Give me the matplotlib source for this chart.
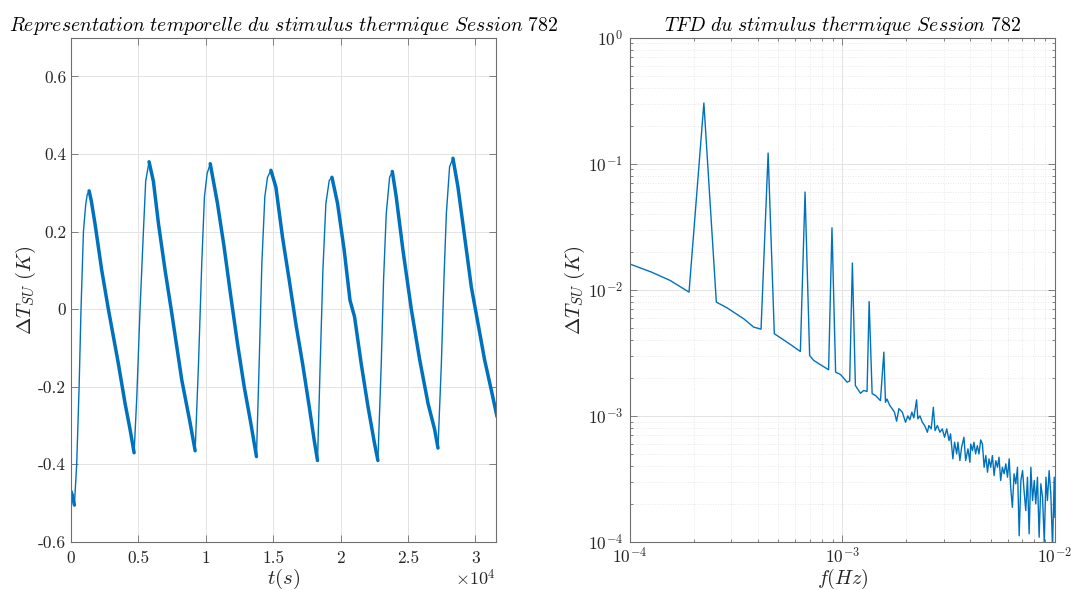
import matplotlib
matplotlib.use("Agg")
import matplotlib.pyplot as plt
import matplotlib.ticker as mticker
import numpy as np

plt.rcParams["font.family"] = "serif"
plt.rcParams["font.serif"] = ["cmr10", "DejaVu Serif"]
plt.rcParams["mathtext.fontset"] = "cm"
plt.rcParams["axes.unicode_minus"] = False
plt.rcParams["axes.formatter.use_mathtext"] = True

# time signal (t in s, dT in K)
t_s = [0, 100, 250, 420, 600, 740, 920, 1090, 1200, 1340, 1500, 1780, 2280, 2770,
       3510, 4010, 4380, 4680,
       4880, 5120, 5370, 5540, 5790,
       6110, 6490, 6980, 7430, 8220, 8840, 9210,
       9460, 9700, 9900, 10100, 10330,
       10870, 11360, 11860, 12350, 12850, 13340, 13760,
       13960, 14160, 14380, 14580, 14830,
       15200, 15690, 16190, 16680, 17180, 17670, 18040, 18290,
       18490, 18690, 18910, 19160, 19360,
       19780, 20270, 20700, 21040, 21530, 22030, 22520, 22770,
       23020, 23190, 23390, 23640, 23840,
       24130, 24630, 25250, 25870, 26490, 26980, 27230,
       27480, 27670, 27850, 28090, 28340,
       28710, 29210, 29700, 30200, 30690, 31190, 31610]
dT = [-0.47, -0.48, -0.505, -0.40, -0.2, 0.0, 0.2, 0.27, 0.295, 0.305, 0.28, 0.22, 0.10, 0.0,
      -0.14, -0.243, -0.31, -0.37,
      -0.226, 0.0, 0.2, 0.33, 0.38,
      0.33, 0.22, 0.10, 0.0, -0.183, -0.294, -0.365,
      -0.14, 0.118, 0.29, 0.35, 0.375,
      0.272, 0.16, 0.032, -0.088, -0.2, -0.294, -0.38,
      -0.14, 0.118, 0.29, 0.34, 0.358,
      0.315, 0.186, 0.075, -0.037, -0.14, -0.25, -0.337, -0.39,
      -0.14, 0.10, 0.272, 0.332, 0.34,
      0.272, 0.152, 0.023, -0.02, -0.14, -0.25, -0.346, -0.39,
      -0.14, 0.075, 0.246, 0.34, 0.355,
      0.29, 0.152, 0.0, -0.13, -0.243, -0.31, -0.358,
      -0.14, 0.075, 0.246, 0.367, 0.389,
      0.315, 0.186, 0.058, -0.037, -0.131, -0.209, -0.277]

# spectrum
freq_hz = [9.52e-5, 1.264e-4, 1.545e-4, 1.897e-4, 2.228e-4, 2.55e-4, 2.86e-4, 3.43e-4,
           3.82e-4, 4.14e-4, 4.47e-4, 4.78e-4, 5.2e-4, 5.79e-4, 6.34e-4, 6.67e-4, 7.01e-4,
           7.33e-4, 7.87e-4, 8.61e-4, 8.93e-4, 9.29e-4, 9.79e-4, 1.052e-3, 1.082e-3,
           1.114e-3, 1.151e-3, 1.216e-3, 1.26e-3, 1.306e-3, 1.336e-3, 1.38e-3, 1.432e-3,
           1.51e-3, 1.567e-3, 1.595e-3, 1.62e-3, 1.671e-3, 1.714e-3, 1.758e-3, 1.799e-3,
           1.845e-3, 1.914e-3, 1.982e-3, 2.032e-3, 2.075e-3, 2.123e-3, 2.168e-3, 2.234e-3,
           2.265e-3, 2.317e-3, 2.377e-3, 2.438e-3, 2.512e-3, 2.553e-3, 2.618e-3, 2.679e-3,
           2.729e-3, 2.799e-3, 2.877e-3, 2.951e-3, 3.027e-3, 3.097e-3, 3.177e-3, 3.228e-3,
           3.311e-3, 3.373e-3, 3.451e-3, 3.499e-3, 3.573e-3, 3.639e-3, 3.733e-3, 3.802e-3,
           3.899e-3, 3.981e-3, 4.018e-3, 4.093e-3, 4.159e-3, 4.236e-3, 4.315e-3, 4.395e-3,
           4.477e-3, 4.56e-3, 4.645e-3, 4.732e-3, 4.819e-3, 4.898e-3, 4.989e-3, 5.082e-3,
           5.176e-3, 5.272e-3, 5.37e-3, 5.458e-3, 5.559e-3, 5.662e-3, 5.768e-3, 5.875e-3,
           5.984e-3, 6.095e-3, 6.194e-3, 6.31e-3, 6.427e-3, 6.546e-3, 6.668e-3, 6.792e-3,
           6.918e-3, 7.047e-3, 7.161e-3, 7.295e-3, 7.43e-3, 7.568e-3, 7.709e-3, 7.852e-3,
           7.998e-3, 8.128e-3, 8.279e-3, 8.433e-3, 8.59e-3, 8.75e-3, 8.913e-3, 9.078e-3,
           9.226e-3, 9.397e-3, 9.572e-3, 9.75e-3, 9.931e-3, 1.0e-2]
amp_k = [0.0165, 0.0138, 0.01186, 0.00958, 0.303, 0.00798, 0.0072, 0.00589,
         0.00506, 0.00487, 0.1216, 0.00448, 0.00408, 0.00361, 0.00324, 0.0596, 0.00301,
         0.00275, 0.00255, 0.00232, 0.031, 0.00222, 0.00213, 0.00185, 0.00189,
         0.0163, 0.00174, 0.00151, 0.00159, 0.00156, 0.00807, 0.0015, 0.00145,
         0.00132, 0.0032, 0.00128, 0.00136, 0.00121, 0.00114, 0.00107, 0.000906,
         0.00114, 0.00107, 0.000889, 0.001, 0.00093, 0.00107, 0.000964, 0.00134,
         0.000946, 0.001, 0.00089, 0.000838, 0.000741, 0.000838, 0.000788, 0.00117,
         0.000764, 0.000838, 0.000741, 0.000788, 0.000676, 0.000788, 0.000637, 0.00072,
         0.000456, 0.000618, 0.000499, 0.000618, 0.000442, 0.000563, 0.000676, 0.000442,
         0.000547, 0.000428, 0.000598, 0.00053, 0.000618, 0.000499, 0.00058, 0.000499,
         0.000644, 0.000598, 0.000391, 0.000484, 0.000357, 0.000456, 0.000391, 0.000484,
         0.000336, 0.000441, 0.000391, 0.00047, 0.000307, 0.000391, 0.000347, 0.000416,
         0.000326, 0.000456, 0.000272, 0.000188, 0.000347, 0.000289, 0.000391, 0.000112,
         0.000307, 0.000368, 0.000255, 0.000177, 0.000326, 0.000116, 0.000391, 0.000213,
         0.000307, 0.0002, 0.000326, 0.000109, 0.000289, 0.000226, 0.0001, 0.000326,
         0.000213, 0.000368, 0.00024, 0.00009, 0.000326, 0.000157]

blue = "#0072BD"
txt = "#262626"
spine = "#6e6e6e"


def style_axes(ax, xpad, ypad=3.5):
    for s in ax.spines.values():
        s.set_color(spine)
        s.set_linewidth(0.8)
    ax.tick_params(which="both", direction="in", top=True, right=True,
                   colors=spine, labelcolor=txt, labelsize=12.5, width=0.6)
    ax.tick_params(which="major", length=5)
    ax.tick_params(which="minor", length=2.5)
    ax.tick_params(axis="x", which="major", pad=xpad)
    ax.tick_params(axis="y", which="major", pad=ypad)
    ax.set_axisbelow(True)


fig = plt.figure(figsize=(10.73, 5.90), dpi=100)

# left: time representation
ax1 = fig.add_axes([0.0662, 0.0815, 0.396, 0.8547])
t_arr = np.array(t_s, dtype=float)
y_arr = np.array(dT)
d = np.diff(y_arr) < 0
desc = np.r_[d, False] | np.r_[False, d]
ax1.plot(t_arr, y_arr, color=blue, lw=1.0)
ax1.plot(t_arr, np.where(desc, y_arr, np.nan), color=blue, lw=2.5,
         solid_capstyle="round", solid_joinstyle="round")
ax1.set_xlim(0, 31530)
ax1.set_ylim(-0.6, 0.7)
ax1.set_xticks(np.arange(0, 30001, 5000))
ax1.set_xticklabels(["0", "0.5", "1", "1.5", "2", "2.5", "3"])
ax1.set_yticks([-0.6, -0.4, -0.2, 0, 0.2, 0.4, 0.6])
ax1.set_yticklabels(["-0.6", "-0.4", "-0.2", "0", "0.2", "0.4", "0.6"])
ax1.grid(True, color="#e3e3e3", lw=0.7)
style_axes(ax1, 6)
ax1.set_xlabel(r"$t(s)$", fontsize=15, color=txt, va="center")
ax1.xaxis.set_label_coords(0.5, -0.073)
ax1.set_ylabel(r"$\Delta T_{SU}\ (K)$", fontsize=15, color=txt)
ax1.yaxis.set_label_coords(-0.078, 0.5)
ax1.set_title(r"$Representation\ temporelle\ du\ stimulus\ thermique\ Session\ 782$",
              fontsize=14.2, color="black", pad=5)
ax1.text(1.0, -0.072, r"$\times 10^4$", transform=ax1.transAxes, ha="right",
         va="center", fontsize=13, color=txt)

# right: spectrum
ax2 = fig.add_axes([0.5871, 0.0815, 0.396, 0.8547])
ax2.loglog(freq_hz, amp_k, color=blue, lw=1.0)
ax2.set_xlim(1e-4, 1e-2)
ax2.set_ylim(1e-4, 1e0)
ax2.xaxis.set_major_locator(mticker.LogLocator(base=10, numticks=10))
ax2.yaxis.set_major_locator(mticker.LogLocator(base=10, numticks=10))
ax2.xaxis.set_minor_locator(mticker.LogLocator(base=10, subs=np.arange(2, 10), numticks=20))
ax2.yaxis.set_minor_locator(mticker.LogLocator(base=10, subs=np.arange(2, 10), numticks=20))
ax2.xaxis.set_minor_formatter(mticker.NullFormatter())
ax2.yaxis.set_minor_formatter(mticker.NullFormatter())
ax2.grid(True, which="major", color="#e3e3e3", lw=0.7)
ax2.grid(True, which="minor", color="#e0e0e0", lw=0.6, linestyle=(0, (1, 2)))
style_axes(ax2, 3, ypad=5)
ax2.set_xlabel(r"$f(Hz)$", fontsize=14.5, color=txt, va="center")
ax2.xaxis.set_label_coords(0.5, -0.073)
ax2.set_ylabel(r"$\Delta T_{SU}\ (K)$", fontsize=15, color=txt)
ax2.yaxis.set_label_coords(-0.1, 0.5)
ax2.set_title(r"$TFD\ du\ stimulus\ thermique\ Session\ 782$",
              fontsize=14.2, color="black", pad=5)

fig.savefig("out.png", dpi=100)
